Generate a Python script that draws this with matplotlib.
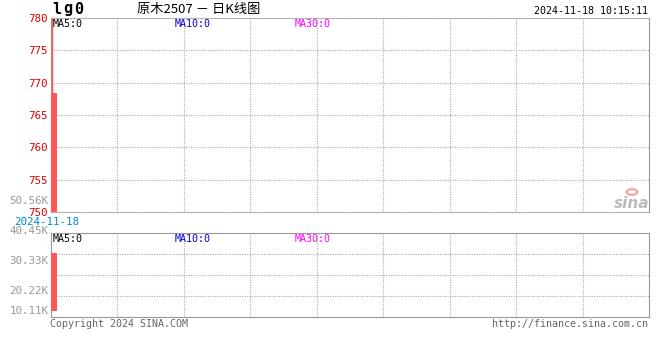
import matplotlib
matplotlib.use("Agg")
import matplotlib.pyplot as plt
from matplotlib.patches import Circle

# data
dates = ["2024-11-18"]
opens = [750.0]
highs = [780.0]
lows = [750.0]
closes = [768.4]
vol_tops = [33.0e3]      # volume bar top (label scale)
vol_bases = [13.5e3]     # bar is drawn from here
price_ticks = [750, 755, 760, 765, 770, 775, 780]
vol_ticks = [50.56e3, 40.45e3, 30.33e3, 20.22e3, 10.11e3]
vol_labels = ["50.56K", "40.45K", "30.33K", "20.22K", "10.11K"]
ma_labels = ["MA5:0", "MA10:0", "MA30:0"]
ma_colors = ["black", "#0000cc", "#ff00ff"]
title = "原木2507 － 日K线图"
stamp = "2024-11-18 10:15:11"
code = "lg0"

W, H = 660, 360
MONO = "DejaVu Sans Mono"
FS = 7.2
RED = "#ff5555"
GRID = "#aaaaaa"
EDGE = "#999999"


def fx(px):
    return px / W


def fy(py):
    return 1 - py / H


fig = plt.figure(figsize=(6.6, 3.6), dpi=100)
fig.patch.set_facecolor("white")

L, R = 51, 649
ax = fig.add_axes([fx(L), fy(212), fx(R) - fx(L), fy(18) - fy(212)])
axv = fig.add_axes([fx(L), fy(317), fx(R) - fx(L), fy(233) - fy(317)])

n_div = 9
for a in (ax, axv):
    a.set_xlim(0, n_div)
    a.set_xticks([])
    for i in range(1, n_div):
        a.axvline(i, color=GRID, lw=0.8, ls=(0, (1, 1.2)), zorder=1)
    a.tick_params(axis="y", length=0, pad=2)

# price panel
ax.set_ylim(750, 780)
ax.set_yticks(price_ticks)
ax.set_yticklabels([str(t) for t in price_ticks], color="#e00000",
                   fontsize=FS + 0.6, family=MONO)
for t in price_ticks[1:-1]:
    ax.axhline(t, color=GRID, lw=0.8, ls=(0, (1, 1.2)), zorder=1)
for i in range(len(dates)):
    ax.vlines(0.015 + i, lows[i], highs[i], color=RED, lw=1, zorder=3)
    ax.bar(0.045 + i, closes[i] - opens[i], bottom=opens[i], width=0.09,
           color=RED, zorder=3, clip_on=False)
for s in ("top", "bottom"):
    ax.spines[s].set_linestyle((0, (1, 1.2)))
    ax.spines[s].set_color(GRID)
for s in ("left", "right"):
    ax.spines[s].set_color(EDGE)

# volume panel (label scale: 10.11K per 30 px, 40.45K at y=231)
def vol_at(py):
    return 40.45e3 - (py - 231) / 30 * 10.11e3


vlo, vhi = vol_at(317), vol_at(233)
axv.set_ylim(vlo, vhi)
axv.set_yticks([])
for f in (0.25, 0.5, 0.75):
    axv.plot([0, 1], [f, f], transform=axv.transAxes, color=GRID, lw=0.8,
             ls=(0, (1, 1.2)), zorder=1)
for i in range(len(dates)):
    axv.bar(0.045 + i, vol_tops[i] - vol_bases[i], bottom=vol_bases[i],
            width=0.09, color=RED, zorder=3, clip_on=False)
for v, lab in zip(vol_ticks, vol_labels):
    yv = max(v, vol_at(311))
    axv.text(-0.04, yv, lab, ha="right", va="center", color="#999999",
             fontsize=FS + 0.6, family=MONO, clip_on=False)
for s in axv.spines.values():
    s.set_color(EDGE)

# texts
for k, ch in enumerate(code):
    fig.text(fx(52 + 11 * k), fy(9), ch, fontsize=11, weight="bold", family=MONO,
             ha="left", va="center")
fig.text(fx(199), fy(9), title, fontsize=9.5, ha="center", va="center",
         family=["Noto Sans CJK SC", "DejaVu Sans"])
fig.text(fx(648), fy(11), stamp, fontsize=FS, family=MONO, ha="right", va="center")
for lab, c, x in zip(ma_labels, ma_colors, [53, 175, 295]):
    fig.text(fx(x), fy(24), lab, fontsize=FS, family=MONO, color=c, va="center")
    fig.text(fx(x), fy(239), lab, fontsize=FS, family=MONO, color=c, va="center")
fig.text(fx(79), fy(222), dates[0], fontsize=FS + 0.6, family=MONO,
         color="#0088dd", ha="right", va="center")
fig.text(fx(50), fy(324), "Copyright 2024 SINA.COM", fontsize=FS, family=MONO,
         color="#666666", va="center")
fig.text(fx(648), fy(324), "http://finance.sina.com.cn", fontsize=FS, family=MONO,
         color="#666666", ha="right", va="center")

# sina logo
fig.text(fx(632), fy(203), "sina", fontsize=11, style="italic", weight="bold",
         color="#bbbbbb", ha="center", va="center")
fig.patches.append(Circle((fx(632), fy(192)), 0.008, transform=fig.transFigure,
                          facecolor="none", edgecolor="#f4a0a0", lw=1.5))

fig.savefig("out.png", dpi=100)
